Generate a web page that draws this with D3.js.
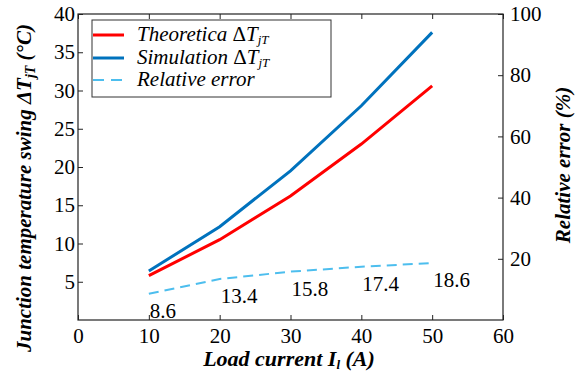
<!DOCTYPE html>
<html>
<head>
<meta charset="utf-8">
<script src="https://cdn.jsdelivr.net/npm/d3@7"></script>
<style>
  body { margin: 0; background: #fff; }
</style>
</head>
<body>
<svg id="chart" width="584" height="375"></svg>
<script>
// load current (A)
const current = [10, 20, 30, 40, 50];
// junction temperature swing (°C)
const theoretical = [5.8, 10.5, 16.2, 23.0, 30.6];
const simulation = [6.4, 12.2, 19.5, 28.0, 37.6];
// relative error (%)
const relError = [8.6, 13.4, 15.8, 17.4, 18.6];

const xTicks = [0, 10, 20, 30, 40, 50, 60];
const yLeftTicks = [5, 10, 15, 20, 25, 30, 35, 40];
const yRightTicks = [20, 40, 60, 80, 100];

const serif = "Liberation Serif";

const svg = d3.select("#chart");
const plotL = 78, plotR = 503, plotT = 14, plotB = 320;

const x = d3.scaleLinear().domain([0, 60]).range([plotL, plotR]);
const yL = d3.scaleLinear().domain([0, 40]).range([plotB, plotT]);
const yR = d3.scaleLinear().domain([0, 100]).range([plotB, plotT]);

// frame
svg.append("rect")
  .attr("x", plotL).attr("y", plotT)
  .attr("width", plotR - plotL).attr("height", plotB - plotT)
  .attr("fill", "none").attr("stroke", "#222").attr("stroke-width", 1.2);

// bottom axis (ticks inward)
svg.append("g")
  .attr("transform", `translate(0,${plotB})`)
  .call(d3.axisBottom(x).tickValues(xTicks).tickSizeInner(-5).tickSizeOuter(0).tickPadding(8))
  .call(g => g.select(".domain").remove());

// top ticks
svg.append("g")
  .attr("transform", `translate(0,${plotT})`)
  .call(d3.axisTop(x).tickValues(xTicks).tickSizeInner(-5).tickSizeOuter(0).tickFormat(""))
  .call(g => g.select(".domain").remove());

// left axis
svg.append("g")
  .attr("transform", `translate(${plotL},0)`)
  .call(d3.axisLeft(yL).tickValues(yLeftTicks).tickSizeInner(-5).tickSizeOuter(0).tickPadding(3))
  .call(g => g.select(".domain").remove());

// right axis
svg.append("g")
  .attr("transform", `translate(${plotR},0)`)
  .call(d3.axisRight(yR).tickValues(yRightTicks).tickSizeInner(-5).tickSizeOuter(0).tickPadding(7))
  .call(g => g.select(".domain").remove());

svg.selectAll("g").attr("font-family", serif).attr("font-size", 21);
svg.selectAll(".tick text").attr("fill", "#000");
svg.selectAll(".tick line").attr("stroke", "#222");

// lines
const lineL = d3.line().x((d, i) => x(current[i])).y(d => yL(d));
const lineR = d3.line().x((d, i) => x(current[i])).y(d => yR(d));

svg.append("path").datum(theoretical)
  .attr("d", lineL).attr("fill", "none")
  .attr("stroke", "#ff0000").attr("stroke-width", 3);

svg.append("path").datum(simulation)
  .attr("d", lineL).attr("fill", "none")
  .attr("stroke", "#0072bd").attr("stroke-width", 3);

svg.append("path").datum(relError)
  .attr("d", lineR).attr("fill", "none")
  .attr("stroke", "#4dbeee").attr("stroke-width", 2)
  .attr("stroke-dasharray", "10,6");

// error value labels
svg.selectAll(".err-label")
  .data(relError)
  .enter().append("text")
  .attr("class", "err-label")
  .attr("x", (d, i) => x(current[i]) + 1)
  .attr("y", d => yR(d) + 24)
  .attr("font-family", serif)
  .attr("font-size", 21)
  .text(d => d.toFixed(1));

// legend
const legend = svg.append("g");
legend.append("rect")
  .attr("x", 92).attr("y", 20).attr("width", 239).attr("height", 77)
  .attr("fill", "#fff").attr("stroke", "#333").attr("stroke-width", 1);

const legendItems = [
  { name: "Theoretica ", sym: true, color: "#ff0000", width: 3, dash: null },
  { name: "Simulation ", sym: true, color: "#0072bd", width: 3, dash: null },
  { name: "Relative error", sym: false, color: "#4dbeee", width: 2, dash: "11,7" }
];
const legendY = [35, 58, 80];

legendItems.forEach((item, i) => {
  const yy = legendY[i];
  legend.append("line")
    .attr("x1", 93).attr("x2", 124).attr("y1", yy).attr("y2", yy)
    .attr("stroke", item.color).attr("stroke-width", item.width)
    .attr("stroke-dasharray", item.dash);
  const t = legend.append("text")
    .attr("x", 137).attr("y", yy + 6)
    .attr("font-family", serif)
    .attr("font-size", 21).attr("font-style", "italic");
  t.append("tspan").text(item.name);
  if (item.sym) {
    t.append("tspan").attr("font-style", "normal").text("\u0394");
    t.append("tspan").text("T");
    t.append("tspan").attr("dy", 3).attr("font-size", 13).text("jT");
  }
});

// axis titles
const xTitle = svg.append("text")
  .attr("x", 289).attr("y", 366)
  .attr("text-anchor", "middle")
  .attr("font-family", serif)
  .attr("font-size", 22).attr("font-weight", "bold").attr("font-style", "italic");
xTitle.append("tspan").text("Load current I");
xTitle.append("tspan").attr("dy", 3).attr("font-size", 13).text("l");
xTitle.append("tspan").attr("dy", -3).text(" (A)");

const yTitle = svg.append("text")
  .attr("transform", "translate(31,188) rotate(-90)")
  .attr("text-anchor", "middle")
  .attr("font-family", serif)
  .attr("font-size", 21).attr("font-weight", "bold").attr("font-style", "italic");
yTitle.append("tspan").text("Junction temperature swing \u0394T");
yTitle.append("tspan").attr("dy", 4).attr("font-size", 14).text("jT");
yTitle.append("tspan").attr("dy", -4).text(" (\u00B0C)");

svg.append("text")
  .attr("transform", "translate(570,165) rotate(-90)")
  .attr("text-anchor", "middle")
  .attr("font-family", serif)
  .attr("font-size", 21).attr("font-weight", "bold").attr("font-style", "italic")
  .text("Relative error (%)");
</script>
</body>
</html>
